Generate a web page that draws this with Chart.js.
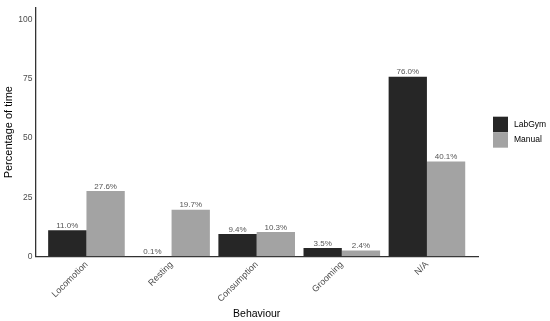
<!DOCTYPE html>
<html>
<head>
<meta charset="utf-8">
<script src="https://cdn.jsdelivr.net/npm/chart.js@4/dist/chart.umd.min.js"></script>
<style>
html,body{margin:0;padding:0;background:#fff;}
#wrap{width:550px;height:321px;position:relative;}
</style>
</head>
<body>
<div id="wrap"><canvas id="c" width="550" height="321"></canvas></div>
<script>
const categories = ["Locomotion", "Resting", "Consumption", "Grooming", "N/A"];
const labGym = [11.0, 0.1, 9.4, 3.5, 76.0];
const manual = [27.6, 19.7, 10.3, 2.4, 40.1];
const yTicks = [0, 25, 50, 75, 100];
const seriesNames = ["LabGym", "Manual"];
const seriesColors = ['#262626', '#a3a3a3'];

const FONT = "'Liberation Sans', Arial, Helvetica, sans-serif";

const toXY = arr => arr.map((v, i) => ({x: i, y: v}));

const valueLabels = {
  id: 'valueLabels',
  afterDatasetsDraw(chart) {
    const ctx = chart.ctx;
    ctx.save();
    ctx.font = "8px " + FONT;
    ctx.fillStyle = '#555555';
    ctx.textAlign = 'center';
    ctx.textBaseline = 'bottom';
    chart.data.datasets.forEach((ds, di) => {
      const meta = chart.getDatasetMeta(di);
      meta.data.forEach((el, i) => {
        const v = ds.data[i].y;
        ctx.fillText(v.toFixed(1) + '%', el.x, el.y - 0.5);
      });
    });
    ctx.restore();
  }
};

const sideLegend = {
  id: 'sideLegend',
  afterDraw(chart) {
    const ctx = chart.ctx;
    const a = chart.chartArea;
    const box = 15.5;
    const x0 = a.right + 15;
    const yMid = (a.top + a.bottom) / 2;
    const y0 = yMid - box * chart.data.datasets.length / 2;
    ctx.save();
    ctx.font = "8.5px " + FONT;
    ctx.textAlign = 'left';
    ctx.textBaseline = 'middle';
    chart.data.datasets.forEach((ds, i) => {
      const y = y0 + i * box;
      ctx.fillStyle = ds.backgroundColor;
      ctx.fillRect(x0, y, 15, box);
      ctx.fillStyle = '#000';
      ctx.fillText(ds.label, x0 + 21, y + box / 2);
    });
    ctx.restore();
  }
};

new Chart(document.getElementById('c'), {
  type: 'bar',
  data: {
    datasets: [
      {label: seriesNames[0], data: toXY(labGym), backgroundColor: seriesColors[0], borderWidth: 0,
       categoryPercentage: 0.9, barPercentage: 1.0},
      {label: seriesNames[1], data: toXY(manual), backgroundColor: seriesColors[1], borderWidth: 0,
       categoryPercentage: 0.9, barPercentage: 1.0}
    ]
  },
  options: {
    responsive: false,
    animation: false,
    devicePixelRatio: 1,
    layout: {padding: {left: 2, right: 72, top: -6, bottom: 1}},
    scales: {
      x: {
        type: 'linear',
        offset: false,
        min: -0.6,
        max: categories.length - 0.4,
        afterBuildTicks: s => { s.ticks = categories.map((_, i) => ({value: i})); },
        ticks: {
          callback: v => categories[v] ?? '',
          minRotation: 45, maxRotation: 45,
          color: '#4d4d4d',
          font: {family: FONT, size: 9},
          padding: 3
        },
        grid: {display: false, drawTicks: false, offset: false},
        border: {display: true, color: '#333333', width: 1.3},
        title: {display: true, text: 'Behaviour', color: '#000', font: {family: FONT, size: 10.5}, padding: {top: 0, bottom: 0}}
      },
      y: {
        min: 0,
        max: 105,
        afterBuildTicks: s => { s.ticks = yTicks.map(v => ({value: v})); },
        ticks: {
          color: '#4d4d4d',
          font: {family: FONT, size: 8.5},
          padding: 3
        },
        grid: {display: false, drawTicks: false},
        border: {display: true, color: '#333333', width: 1.3},
        title: {display: true, text: 'Percentage of time', color: '#000', font: {family: FONT, size: 11}, padding: {top: 0, bottom: 0}}
      }
    },
    plugins: {
      legend: {display: false},
      tooltip: {enabled: false}
    }
  },
  plugins: [valueLabels, sideLegend]
});
</script>
</body>
</html>
